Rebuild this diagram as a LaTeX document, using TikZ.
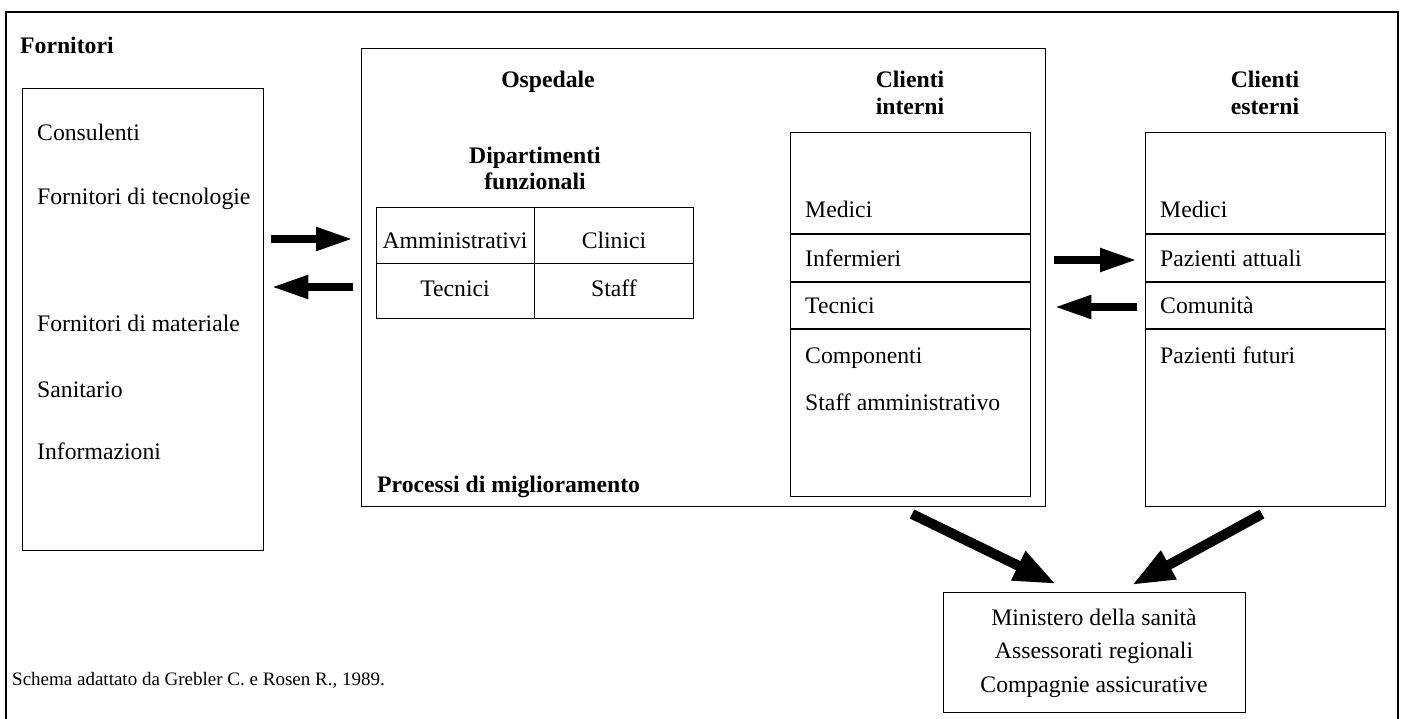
\documentclass[tikz,border=0pt]{standalone}
\usepackage{fontspec}
\setmainfont{Liberation Serif}
\usetikzlibrary{arrows.meta,calc}
\begin{document}
\begin{tikzpicture}[x=1pt,y=-1pt,
  box/.style={draw, line width=1.3pt, inner sep=0pt, anchor=north west},
  txt/.style={anchor=base west, inner sep=0pt, font=\fontsize{23.7}{28}\selectfont},
  ctxt/.style={anchor=base, inner sep=0pt, font=\fontsize{23.7}{28}\selectfont},
  hd/.style={anchor=base, inner sep=0pt, font=\fontsize{23.7}{28}\selectfont\bfseries},
  hdl/.style={anchor=base west, inner sep=0pt, font=\fontsize{23.7}{28}\selectfont\bfseries},
  thin/.style={line width=1.3pt},
  bigarrow/.style={line width=8pt, -{Triangle[length=37pt,width=22pt]}},
  diagarrow/.style={line width=10pt, -{Triangle[length=42pt,width=30pt]}},
]
\useasboundingbox (0,0) rectangle (1404,719);
\fill[white] (0,0) rectangle (1404,719);
\clip (0,0) rectangle (1404,719);
% outer frame
\draw[thin] (6,740) -- (6,12) -- (1398,12) -- (1398,740);
\node[hdl] (lforn) at (20,54) {Fornitori};
% Fornitori box
\node[box, minimum width=241pt, minimum height=462pt] (forn) at (22,88) {};
\node[txt] (f1) at (37,141) {Consulenti};
\node[txt] (f2) at (37,205) {Fornitori di tecnologie};
\node[txt] (f3) at (37,331) {Fornitori di materiale};
\node[txt] (f4) at (37,397) {Sanitario};
\node[txt] (f5) at (37,459) {Informazioni};
% Ospedale
\node[box, minimum width=684pt, minimum height=458pt] (osp) at (361,48) {};
\node[hd] (losp) at (548,88) {Ospedale};
\node[hd] (ldip1) at (535,164) {Dipartimenti};
\node[hd] (ldip2) at (535,190) {funzionali};
\node[box, minimum width=317pt, minimum height=111pt] (tab) at (376,207) {};
\draw[thin] (tab.north) ++(-0.5,0) coordinate (tn) -- (tn |- tab.south);
\draw[thin] (tab.west) -- (tab.east);
\node[ctxt] (c1) at (455,248) {Amministrativi};
\node[ctxt] (c2) at (614,248) {Clinici};
\node[ctxt] (c3) at (455,296) {Tecnici};
\node[ctxt] (c4) at (614,296) {Staff};
\node[hdl] (lproc) at (377,492) {Processi di miglioramento};
% Clienti interni
\node[hd] (lci1) at (910,88) {Clienti};
\node[hd] (lci2) at (910,115) {interni};
\node[box, minimum width=240pt, minimum height=364pt] (ci) at (790,132) {};
\foreach \yy in {234,282,329} \draw[thin] (ci.west |- 0,\yy) -- (ci.east |- 0,\yy);
\node[txt] (i1) at (805,218) {Medici};
\node[txt] (i2) at (805,266) {Infermieri};
\node[txt] (i3) at (805,313) {Tecnici};
\node[txt] (i4) at (805,363) {Componenti};
\node[txt] (i5) at (805,410) {Staff amministrativo};
% Clienti esterni
\node[box, minimum width=240pt, minimum height=374pt] (ce) at (1145,132) {};
\node[hd] (lce1) at (1265,88) {Clienti};
\node[hd] (lce2) at (1265,115) {esterni};
\foreach \yy in {234,282,329} \draw[thin] (ce.west |- 0,\yy) -- (ce.east |- 0,\yy);
\node[txt] (e1) at (1160,218) {Medici};
\node[txt] (e2) at (1160,266) {Pazienti attuali};
\node[txt] (e3) at (1160,313) {Comunità};
\node[txt] (e4) at (1160,363) {Pazienti futuri};
% Ministero
\node[box, minimum width=302pt, minimum height=120pt] (min) at (943,592) {};
\node[ctxt] (m1) at (1094,625) {Ministero della sanità};
\node[ctxt] (m2) at (1094,658) {Assessorati regionali};
\node[ctxt] (m3) at (1094,692) {Compagnie assicurative};
% source
\node[anchor=base west, inner sep=0pt, font=\fontsize{19}{23}\selectfont] (src) at (12,685) {Schema adattato da Grebler C. e Rosen R., 1989.};
% horizontal arrows
\coordinate (r1) at (0,239);
\coordinate (r2) at (0,287);
\coordinate (r3) at (0,260);
\coordinate (r4) at (0,307);
\draw[bigarrow, shorten <=7pt, shorten >=8pt] (forn.east |- r1) -- (osp.west |- r1);
\draw[bigarrow, shorten <=8pt, shorten >=7pt] (osp.west |- r2) -- (forn.east |- r2);
\draw[bigarrow, shorten <=8pt, shorten >=8pt] (osp.east |- r3) -- (ce.west |- r3);
\draw[bigarrow, shorten <=8pt, shorten >=8pt] (ce.west |- r4) -- (osp.east |- r4);
% diagonal arrows
\coordinate (d1s) at (912,514);
\coordinate (d1e) at (1056,584);
\coordinate (d2s) at (1262,514);
\coordinate (d2e) at (1132,585);
\draw[diagarrow] (d1s) -- (d1e);
\draw[diagarrow] (d2s) -- (d2e);
\end{tikzpicture}
\end{document}
